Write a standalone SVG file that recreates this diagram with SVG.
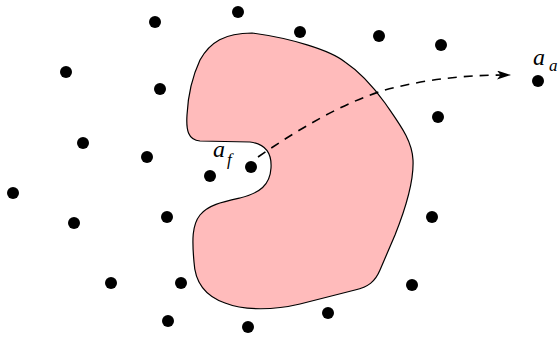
<svg xmlns="http://www.w3.org/2000/svg" width="558" height="338" viewBox="0 0 558 338">
<style>
.dot{fill:#000}
.lbl{font-family:"Liberation Serif",serif;font-style:italic;fill:#000}
</style>
<defs>
<marker id="arr" viewBox="0 0 14 9" refX="13" refY="4.5" markerWidth="14" markerHeight="9" markerUnits="userSpaceOnUse" orient="auto">
<path d="M0,0 L14,4.5 L0,9 L3.5,4.5 Z" fill="#000"/>
</marker>
</defs>
<rect width="558" height="338" fill="#fff"/>
<g id="region">
<path d="M 252,33 C 290,38 330,50 345,62 C 360,72 372,85 385,103 C 400,125 412,140 413,160 C 414,180 405,210 395,235 L 380,270 C 375,282 368,287 355,290 L 300,304 C 275,310 245,311 225,303 C 205,296 195,283 194,262 C 192,240 192,225 200,215 C 208,205 222,202 240,198 C 260,193 270,185 271,168 C 272,152 265,144 250,142 L 200,141 C 188,140 186,130 187,115 C 188,95 193,75 200,60 C 210,42 225,33 252,33 Z" fill="#ffbbbb" stroke="#000" stroke-width="1.2"/>
</g>
<g id="connectors">
<path d="M 258,157 C 300,128 345,102 385,90 C 430,78 470,75 510,75" fill="none" stroke="#000" stroke-width="1.6" stroke-dasharray="9,7" marker-end="url(#arr)"/>
</g>
<g id="points">
<circle class="dot" cx="155" cy="22" r="6"/>
<circle class="dot" cx="238" cy="12" r="6"/>
<circle class="dot" cx="300" cy="32" r="6"/>
<circle class="dot" cx="379" cy="36" r="6"/>
<circle class="dot" cx="441" cy="45" r="6"/>
<circle class="dot" cx="66" cy="72" r="6"/>
<circle class="dot" cx="160" cy="89" r="6"/>
<circle class="dot" cx="538" cy="81" r="6"/>
<circle class="dot" cx="83" cy="143" r="6"/>
<circle class="dot" cx="147" cy="157" r="6"/>
<circle class="dot" cx="438" cy="117" r="6"/>
<circle class="dot" cx="13" cy="193" r="6"/>
<circle class="dot" cx="210" cy="176" r="6"/>
<circle class="dot" cx="251" cy="167" r="6"/>
<circle class="dot" cx="74" cy="223" r="6"/>
<circle class="dot" cx="167" cy="217" r="6"/>
<circle class="dot" cx="432" cy="217" r="6"/>
<circle class="dot" cx="111" cy="283" r="6"/>
<circle class="dot" cx="181" cy="283" r="6"/>
<circle class="dot" cx="412" cy="285" r="6"/>
<circle class="dot" cx="328" cy="313" r="6"/>
<circle class="dot" cx="168" cy="321" r="6"/>
<circle class="dot" cx="248" cy="327" r="6"/>
</g>
<g id="labels">
<text class="lbl" x="213" y="157" font-size="24">a</text>
<text class="lbl" x="227" y="165" font-size="17">f</text>
<text class="lbl" x="533" y="65" font-size="24">a</text>
<text class="lbl" x="549" y="71" font-size="17">a</text>
</g>
</svg>
